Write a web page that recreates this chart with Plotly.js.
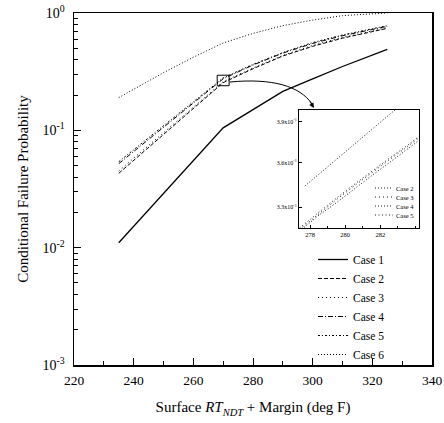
<!DOCTYPE html>
<html>
<head>
<meta charset="utf-8">
<script src="https://cdn.plot.ly/plotly-3.0.1.min.js"></script>
<style>html,body{margin:0;padding:0;background:#fff;}#chart{width:444px;height:423px;}</style>
</head>
<body>
<div id="chart"></div>
<script>
// ---- main chart data ----
const temps = [235, 250, 260, 270, 280, 290, 300, 310, 325];
const case1 = [0.011, 0.029, 0.056, 0.105, 0.150, 0.215, 0.275, 0.350, 0.49];
const case2 = [0.043, 0.092, 0.153, 0.255, 0.335, 0.430, 0.520, 0.610, 0.74];
const case3 = [0.045, 0.095, 0.157, 0.260, 0.340, 0.435, 0.530, 0.620, 0.75];
const case4 = [0.052, 0.106, 0.171, 0.275, 0.360, 0.455, 0.550, 0.640, 0.77];
const case5 = [0.054, 0.110, 0.176, 0.280, 0.365, 0.460, 0.560, 0.650, 0.78];
const case6 = [0.19, 0.31, 0.42, 0.555, 0.67, 0.78, 0.87, 0.95, 1.0];
const caseNames = ["Case 1", "Case 2", "Case 3", "Case 4", "Case 5", "Case 6"];

// ---- inset data ----
const insetTempsUpper = [277.7, 278.5, 279.5, 280.5, 281.5, 282.4, 283.0];
const insetUpper = [0.344, 0.352, 0.362, 0.373, 0.384, 0.394, 0.401];
const insetTempsLower = [277.4, 278.5, 279.5, 280.5, 281.5, 282.5, 283.5, 284.3];
const insetLowerA = [0.315, 0.325, 0.333, 0.342, 0.351, 0.360, 0.369, 0.377];
const insetLowerB = [0.316, 0.326, 0.335, 0.344, 0.353, 0.362, 0.371, 0.379];
const insetLowerC = [0.317, 0.327, 0.336, 0.345, 0.354, 0.363, 0.372, 0.380];
const insetNames = ["Case 2", "Case 3", "Case 4", "Case 5"];

const yTickVals = [0.001, 0.01, 0.1, 1];
const yTickText = ["10<sup>-3</sup>", "10<sup>-2</sup>", "10<sup>-1</sup>", "10<sup>0</sup>"];
const insetYTickVals = [0.33, 0.36, 0.39];
const insetYTickText = ["3.3x10<sup>-1</sup>", "3.6x10<sup>-1</sup>", "3.9x10<sup>-1</sup>"];

const FONT = "Liberation Serif, Times New Roman, serif";
const insetDashes = ["1px,2px", "1px,3px", "1px,2px", "1px,2.5px"];

function mainTrace(y, name, dash, width) {
  return {x: temps, y: y, name: name, type: "scatter", mode: "lines",
    line: {color: "#000", width: width || 1, dash: dash}, xaxis: "x", yaxis: "y"};
}
function insetTrace(x, y, name, dash) {
  return {x: x, y: y, name: name, type: "scatter", mode: "lines", showlegend: false,
    line: {color: "#000", width: 0.9, dash: dash}, xaxis: "x2", yaxis: "y2"};
}

const data = [
  mainTrace(case1, caseNames[0], "solid", 1.3),
  mainTrace(case2, caseNames[1], "4px,2px", 1),
  mainTrace(case3, caseNames[2], "1px,3px", 1),
  mainTrace(case4, caseNames[3], "5px,2px,1px,2px", 1),
  mainTrace(case5, caseNames[4], "2px,2px,1px,2px", 1),
  mainTrace(case6, caseNames[5], "1px,2px", 1),
  insetTrace(insetTempsLower, insetLowerA, insetNames[0], insetDashes[0]),
  insetTrace(insetTempsLower, insetLowerB, insetNames[1], insetDashes[1]),
  insetTrace(insetTempsUpper, insetUpper, insetNames[2], insetDashes[2]),
  insetTrace(insetTempsLower, insetLowerC, insetNames[3], insetDashes[3])
];

// paper helpers (plot area: 74..432 x, 13..365 y)
const L = 74, R = 432, T = 13, B = 365;
const px = X => (X - L) / (R - L);
const py = Y => (B - Y) / (B - T);

const shapes = [
  {type: "rect", xref: "x", yref: "y", x0: 268, x1: 272, y0: 0.24, y1: 0.295,
   line: {color: "#000", width: 1}},
  {type: "path", xref: "paper", yref: "paper",
   path: "M " + px(230) + " " + py(82) + " C " + px(272) + " " + py(78) + " " + px(300) + " " + py(86) + " " + px(312) + " " + py(104),
   line: {color: "#000", width: 1}}
];
const annotations = [
  {xref: "paper", yref: "paper", x: px(314), y: py(108), ax: -5, ay: -8,
   showarrow: true, arrowhead: 2, arrowsize: 1, arrowwidth: 1, arrowcolor: "#000", text: "", standoff: 0}
];
// inset legend (small, drawn manually)
insetNames.forEach((nm, i) => {
  const yy = 188 + i * 9;
  shapes.push({type: "line", xref: "paper", yref: "paper", x0: px(375), x1: px(393), y0: py(yy), y1: py(yy),
    line: {color: "#000", width: 0.9, dash: insetDashes[i]}});
  annotations.push({xref: "paper", yref: "paper", x: px(394), y: py(yy), xanchor: "left", yanchor: "middle",
    text: nm, showarrow: false, font: {size: 6.5, family: FONT}});
});

const layout = {
  width: 444, height: 423,
  margin: {l: L, r: 444 - R, t: T, b: 423 - B, pad: 0},
  paper_bgcolor: "#fff", plot_bgcolor: "#fff",
  font: {family: FONT, color: "#000"},
  showlegend: true,
  xaxis: {
    domain: [0, 1], range: [220, 340], tickmode: "linear", tick0: 220, dtick: 20,
    ticks: "inside", ticklen: 7, tickwidth: 1, tickcolor: "#000",
    minor: {ticks: "inside", ticklen: 4, dtick: 10, tickcolor: "#000", showgrid: false},
    showline: true, linecolor: "#000", linewidth: 1.5, mirror: true,
    showgrid: false, zeroline: false, ticklabelstandoff: 2,
    tickfont: {size: 13.5, family: FONT},
    title: {text: "Surface <i>RT<sub>NDT</sub></i> + Margin (deg F)", font: {size: 15, family: FONT}, standoff: 15}
  },
  yaxis: {
    domain: [0, 1], type: "log", range: [-3, 0],
    tickmode: "array", tickvals: yTickVals, ticktext: yTickText,
    ticks: "inside", ticklen: 7, tickwidth: 1, tickcolor: "#000",
    minor: {ticks: "inside", ticklen: 4, dtick: "D1", tickcolor: "#000", showgrid: false},
    showline: true, linecolor: "#000", linewidth: 1.5, mirror: true,
    showgrid: false, zeroline: false, ticklabelstandoff: 5,
    tickfont: {size: 14, family: FONT},
    title: {text: "Conditional Failure Probability", font: {size: 15, family: FONT}, standoff: 10}
  },
  xaxis2: {
    domain: [px(299), px(419)], anchor: "y2", range: [277.37, 284.2],
    tickmode: "array", tickvals: [278, 280, 282],
    ticks: "inside", ticklen: 3, tickcolor: "#000",
    minor: {ticks: "inside", ticklen: 2, dtick: 1, tickcolor: "#000"},
    showline: true, linecolor: "#000", linewidth: 1, mirror: true,
    showgrid: false, zeroline: false, tickfont: {size: 6.5, family: FONT}
  },
  yaxis2: {
    domain: [py(228), py(110)], anchor: "x2", type: "log",
    range: [Math.log10(0.317), Math.log10(0.399)],
    tickmode: "array", tickvals: insetYTickVals, ticktext: insetYTickText,
    ticks: "inside", ticklen: 3, tickcolor: "#000",
    showline: true, linecolor: "#000", linewidth: 1, mirror: true,
    showgrid: false, zeroline: false, tickfont: {size: 6, family: FONT}
  },
  legend: {
    x: px(313), y: py(245), xanchor: "left", yanchor: "top",
    bgcolor: "rgba(0,0,0,0)", borderwidth: 0,
    font: {size: 11.5, family: FONT}, tracegroupgap: 0, itemwidth: 30
  },
  shapes: shapes,
  annotations: annotations
};

Plotly.newPlot("chart", data, layout, {displayModeBar: false, staticPlot: true});
</script>
</body>
</html>
